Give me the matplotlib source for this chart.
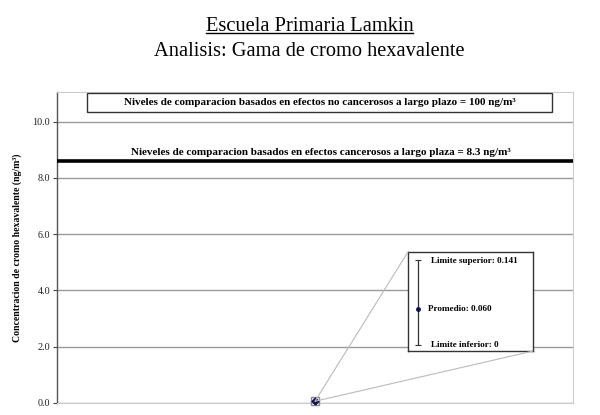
#!/usr/bin/env python3
# -*- coding: utf-8 -*-

"""
Escuela Primaria Lamkin - gama de cromo hexavalente (ng/m3).
Un solo punto (promedio) con recuadro ampliado de limites.
"""

import matplotlib.pyplot as plt
from matplotlib.patches import ConnectionPatch, Rectangle
from matplotlib.lines import Line2D

# Datos
sitios = ["Lamkin"]
promedio = [0.060]
limite_superior = [0.141]
limite_inferior = [0.0]

nivel_no_cancer = 100      # ng/m3, fuera de escala (solo texto)
nivel_cancer_texto = 8.3   # ng/m3 segun la etiqueta
nivel_cancer_linea = 8.6   # posicion de la linea tal como se ve en la figura

yticks = [0.0, 2.0, 4.0, 6.0, 8.0, 10.0]

plt.rcParams["font.family"] = ["Liberation Serif", "DejaVu Serif"]

fig = plt.figure(figsize=(6.0, 4.15), dpi=100)
fig.patch.set_facecolor("white")

# Titulos
t1 = fig.text(0.516, 0.925, "Escuela Primaria Lamkin", ha="center", va="baseline",
              fontsize=14.8)
fig.text(0.515, 0.864, "Analisis: Gama de cromo hexavalente", ha="center",
         va="baseline", fontsize=14.7)

# Eje principal
ax = fig.add_axes([0.095, 0.029, 0.86, 0.749])
ax.set_xlim(-1, 1)
ax.set_ylim(0, 11.05)
ax.set_yticks(yticks)
ax.set_yticklabels([f"{v:.1f}" for v in yticks], fontsize=7.3, color="#222222")
ax.set_xticks([])
ax.yaxis.grid(True, color="#999999", linewidth=1.0)
ax.set_axisbelow(True)
ax.tick_params(axis="y", length=3, width=0.8, color="#444444", pad=2)
ax.spines["left"].set_color("#555555")
ax.spines["left"].set_linewidth(1.0)
for s in ["top", "right", "bottom"]:
    ax.spines[s].set_color("#cccccc")
    ax.spines[s].set_linewidth(0.8)

ax.set_ylabel("Concentracion de cromo hexavalente (ng/m³)",
              fontsize=7.0, fontweight="bold")
ax.yaxis.set_label_coords(-0.068, 0.5)

# Linea de comparacion (cancer)
ax.axhline(nivel_cancer_linea, color="black", linewidth=2.6, zorder=3)
ax.text(0.021, 8.9,
        f"Nieveles de comparacion basados en efectos cancerosos a largo plaza = "
        f"{nivel_cancer_texto} ng/m³",
        ha="center", va="center", fontsize=8.0, fontweight="bold")

# Caja de comparacion (no cancer)
ax.add_patch(Rectangle((0.058, 0.936), 0.901, 0.061, transform=ax.transAxes,
                       facecolor="white", edgecolor="#333333", linewidth=1.0,
                       zorder=3))
ax.text(0.019, 10.68,
        f"Niveles de comparacion basados en efectos no cancerosos a largo plazo = "
        f"{nivel_no_cancer} ng/m³",
        ha="center", va="center", fontsize=8.0, fontweight="bold", zorder=4)

# Punto principal
xs = list(range(len(sitios)))
ax.plot(xs, promedio, marker="s", markersize=6, markerfacecolor="none",
        markeredgecolor="#888888", linestyle="none", zorder=4, clip_on=False)
ax.plot(xs, promedio, marker="D", markersize=3.5, color="#10105a",
        linestyle="none", zorder=5, clip_on=False)

# Recuadro ampliado
axi = fig.add_axes([0.680, 0.154, 0.208, 0.239])
axi.set_xlim(0, 1)
axi.set_ylim(-0.0099, 0.1543)
axi.set_xticks([])
axi.set_yticks([])
for s in axi.spines.values():
    s.set_color("#333333")
    s.set_linewidth(1.0)
err_lo = [p - lo for p, lo in zip(promedio, limite_inferior)]
err_hi = [hi - p for p, hi in zip(promedio, limite_superior)]
axi.errorbar([0.08], promedio, yerr=[err_lo, err_hi], fmt="o", markersize=2.5,
             color="#10105a", ecolor="#333333", elinewidth=0.9, capsize=2.5,
             capthick=0.8)
axi.text(0.185, limite_superior[0] - 0.002,
         f"Limite superior: {limite_superior[0]:.3f}",
         ha="left", va="center", fontsize=6.6, fontweight="bold")
axi.text(0.16, promedio[0], f"Promedio: {promedio[0]:.3f}",
         ha="left", va="center", fontsize=6.6, fontweight="bold")
axi.text(0.185, limite_inferior[0], f"Limite inferior: {limite_inferior[0]:g}",
         ha="left", va="center", fontsize=6.6, fontweight="bold")

# Lineas de conexion
for xyb in [(0, 1), (1, 0)]:
    con = ConnectionPatch(xyA=(xs[0], promedio[0]), coordsA=ax.transData,
                          xyB=xyb, coordsB=axi.transAxes,
                          color="#bbbbbb", linewidth=0.8)
    fig.add_artist(con)

# Subrayado del titulo
fig.canvas.draw()
bb = t1.get_window_extent().transformed(fig.transFigure.inverted())
y_sub = 0.925 - 0.0045
fig.add_artist(Line2D([bb.x0, bb.x1], [y_sub, y_sub],
                      color="black", linewidth=1.0, transform=fig.transFigure))

fig.savefig("out.png", dpi=100)
